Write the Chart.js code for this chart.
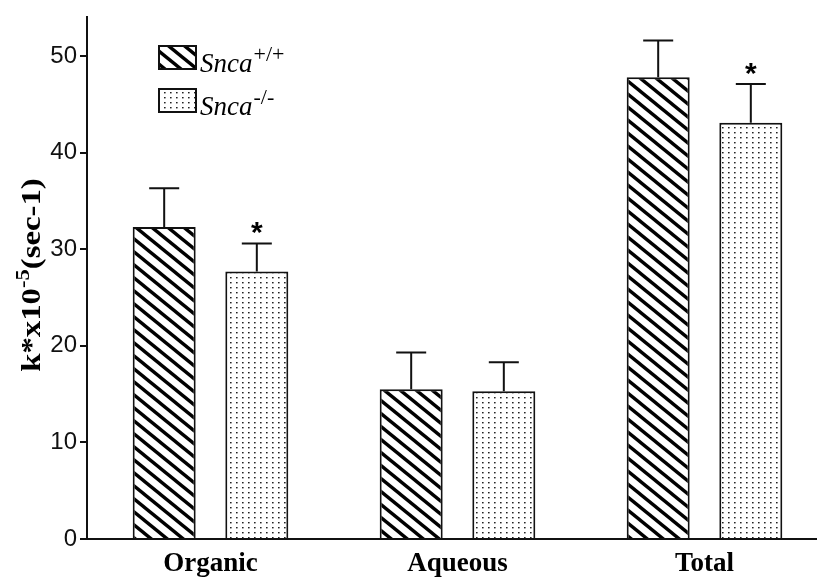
<!DOCTYPE html>
<html>
<head>
<meta charset="utf-8">
<script src="https://cdn.jsdelivr.net/npm/chart.js@4/dist/chart.umd.min.js"></script>
<style>
  html, body { margin: 0; padding: 0; background: #fff; overflow: hidden; }
  #wrap { width: 817px; height: 580px; overflow: hidden; }
</style>
</head>
<body>
<div id="wrap"><canvas id="c" width="840" height="580"></canvas></div>
<script>
/* data */
var categories  = ['Organic', 'Aqueous', 'Total'];
var seriesTags  = ['+/+', '-/-'];
var wildType    = [32.3, 15.5, 47.8];
var knockout    = [27.7, 15.3, 43.1];
var wildErr     = [4.0, 3.8, 3.8];
var knockErr    = [2.9, 3.0, 4.0];
var knockStars  = ['*', '', '*'];
var yTickValues = [0, 10, 20, 30, 40, 50];

var canvas = document.getElementById('c');
var ctx = canvas.getContext('2d');

/* ── hatch patterns ─────────────────────────── */
function makeStripes() {
  var w = 16, h = 13;
  var t = document.createElement('canvas');
  t.width = w; t.height = h;
  var x = t.getContext('2d');
  x.fillStyle = '#fff'; x.fillRect(0, 0, w, h);
  x.strokeStyle = '#000'; x.lineWidth = 3.4;
  [-w, 0, w].forEach(function(o) {
    x.beginPath(); x.moveTo(o - w, -h); x.lineTo(o + 2 * w, 2 * h); x.stroke();
  });
  return ctx.createPattern(t, 'repeat');
}

function makeDots() {
  var t = document.createElement('canvas');
  t.width = 6; t.height = 5;
  var x = t.getContext('2d');
  x.fillStyle = '#fff'; x.fillRect(0, 0, 6, 5);
  x.fillStyle = '#222'; x.fillRect(2, 2, 1.6, 1.4);
  return ctx.createPattern(t, 'repeat');
}

var stripes = makeStripes();
var dots    = makeDots();

/* ── error bars + stars ─────────────────────── */
var errorBars = {
  id: 'errorBars',
  afterDatasetsDraw: function(chart) {
    var c = chart.ctx, ys = chart.scales.y;
    var errs = [wildErr, knockErr];
    c.save();
    c.strokeStyle = '#111'; c.lineWidth = 2;
    chart.data.datasets.forEach(function(ds, i) {
      chart.getDatasetMeta(i).data.forEach(function(bar, j) {
        var yTop = ys.getPixelForValue(ds.data[j] + errs[i][j]);
        c.beginPath();
        c.moveTo(bar.x, bar.y); c.lineTo(bar.x, yTop);
        c.moveTo(bar.x - 15, yTop); c.lineTo(bar.x + 15, yTop);
        c.stroke();
        if (i === 1 && knockStars[j]) {
          c.fillStyle = '#000';
          c.font = 'bold 30px "Liberation Sans"';
          c.textAlign = 'center'; c.textBaseline = 'alphabetic';
          c.fillText(knockStars[j], bar.x, yTop - 1);
        }
      });
    });
    c.restore();
  }
};

/* ── y title and legend with superscripts ───── */
var annotations = {
  id: 'annotations',
  afterDraw: function(chart) {
    var c = chart.ctx;
    c.save();
    c.fillStyle = '#000';

    // y title, rotated and stretched a bit along its length
    var big = 'bold 29px "Liberation Serif"', sup = 'bold 20px "Liberation Serif"';
    c.font = big; var w1 = c.measureText('k*x10').width, w3 = c.measureText('(sec-1)').width;
    c.font = sup; var w2 = c.measureText('-5').width;
    var total = w1 + w2 + w3;
    c.translate(40, 275);
    c.rotate(-Math.PI / 2);
    c.scale(1.13, 0.92);
    c.textAlign = 'left'; c.textBaseline = 'alphabetic';
    var x0 = -total / 2;
    c.font = big; c.fillText('k*x10', x0, 0);
    c.font = sup; c.fillText('-5', x0 + w1, -12);
    c.font = big; c.fillText('(sec-1)', x0 + w1 + w2, 0);
    c.setTransform(1, 0, 0, 1, 0, 0);

    // legend
    var fills = [stripes, dots];
    var tops = [46, 89];
    for (var i = 0; i < 2; i++) {
      c.fillStyle = fills[i];
      c.fillRect(159, tops[i], 37, 23);
      c.strokeStyle = '#111'; c.lineWidth = 2;
      c.strokeRect(159, tops[i], 37, 23);
      c.fillStyle = '#000';
      c.font = 'italic 27px "Liberation Serif"';
      c.textAlign = 'left'; c.textBaseline = 'alphabetic';
      c.fillText('Snca', 200, tops[i] + 26);
      var sw = c.measureText('Snca').width;
      c.font = '22px "Liberation Serif"';
      c.fillText(seriesTags[i], 200 + sw + 1, tops[i] + 15);
    }
    c.restore();
  }
};

new Chart(canvas, {
  type: 'bar',
  data: {
    labels: categories,
    datasets: [
      {
        label: 'Snca +/+',
        data: wildType,
        backgroundColor: stripes,
        borderColor: '#111',
        borderWidth: 2,
        categoryPercentage: 0.75,
        barPercentage: 0.68,
      },
      {
        label: 'Snca -/-',
        data: knockout,
        backgroundColor: dots,
        borderColor: '#111',
        borderWidth: 2,
        categoryPercentage: 0.75,
        barPercentage: 0.68,
      },
    ],
  },
  options: {
    responsive: false,
    animation: false,
    layout: { padding: { top: 12, right: 12, left: 0, bottom: 0 } },
    plugins: { legend: { display: false }, tooltip: { enabled: false } },
    scales: {
      x: {
        grid:   { display: false, drawTicks: false },
        border: { display: true, color: '#111', width: 2 },
        ticks:  { color: '#000', padding: 9, font: { family: 'Liberation Serif', size: 27, weight: 'bold' } },
        afterFit: function(s) { s.height = 41; },
      },
      y: {
        min: 0,
        max: 54,
        grid:   { drawOnChartArea: false, drawTicks: true, tickLength: 7, color: '#111', lineWidth: 2 },
        border: { display: true, color: '#111', width: 2 },
        afterBuildTicks: function(s) {
          s.ticks = yTickValues.map(function(v) { return { value: v }; });
        },
        ticks: {
          color: '#111',
          padding: 3,
          font: { family: 'Liberation Sans', size: 24 },
        },
        afterFit: function(s) { s.width = 87; },
      },
    },
  },
  plugins: [errorBars, annotations],
});
</script>
</body>
</html>
